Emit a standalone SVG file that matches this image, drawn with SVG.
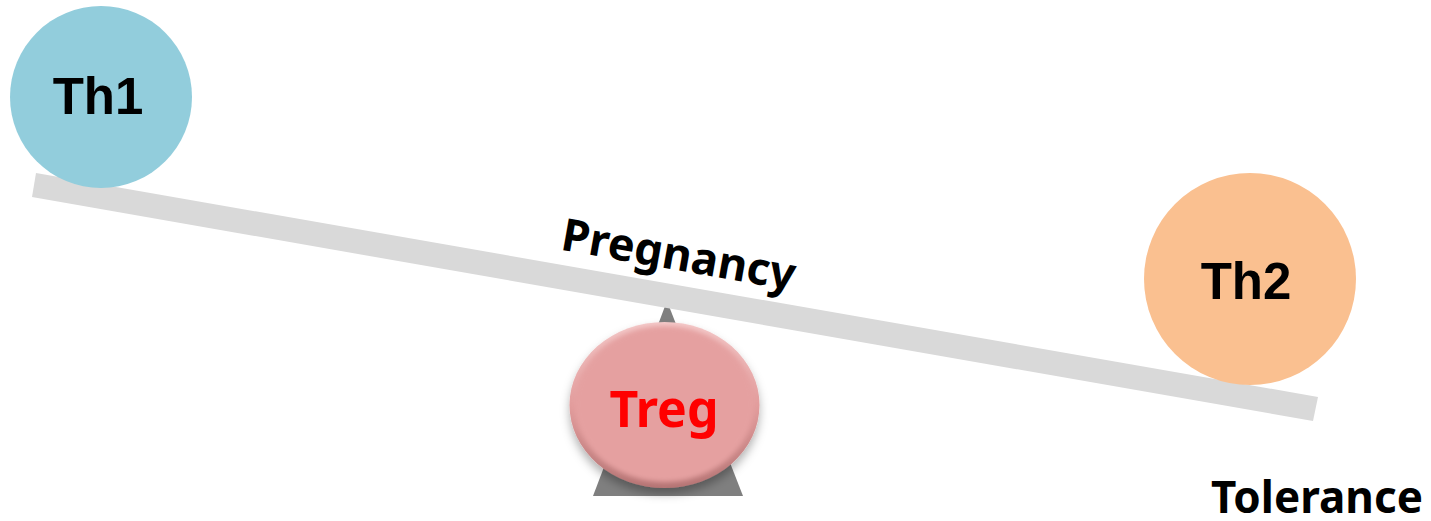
<svg xmlns="http://www.w3.org/2000/svg" width="1431" height="521" viewBox="0 0 1431 521">
<style>
.lbl{font-family:"Liberation Sans",Arial,sans-serif;font-weight:bold;font-size:51px;fill:#000;text-anchor:middle}
.txt{font-family:"Noto Sans","Open Sans",sans-serif;font-weight:bold;font-size:44px;fill:#000}
</style>
<defs>
<linearGradient id="rim" x1="0" y1="0" x2="0" y2="1">
<stop offset="0" stop-color="#f4caca"/>
<stop offset="0.5" stop-color="#e29c9c"/>
<stop offset="1" stop-color="#b57474"/>
</linearGradient>
<filter id="sh" x="-20%" y="-20%" width="140%" height="150%">
<feDropShadow dx="0" dy="6" stdDeviation="5" flood-color="#000" flood-opacity="0.3"/>
</filter>
<filter id="soft" x="-10%" y="-10%" width="120%" height="120%">
<feGaussianBlur stdDeviation="2.5"/>
</filter>
</defs>
<rect width="1431" height="521" fill="#fff"/>
<g id="fulcrum">
<polygon points="667,301 743,496 593,496" fill="#7f7f7f"/>
</g>
<g id="connectors">
<polygon id="beam" points="36,173 1318,397 1313,421 32,197" fill="#d9d9d9"/>
</g>
<g id="pregnancy">
<text class="txt" transform="translate(676,270) rotate(10)" text-anchor="middle" style="font-size:45px">Pregnancy</text>
</g>
<g id="th1">
<circle cx="101" cy="97" r="91" fill="#92cddc"/>
<text class="lbl" x="98" y="114">Th1</text>
</g>
<g id="th2">
<circle cx="1250" cy="279" r="106" fill="#fac090"/>
<text class="lbl" x="1246" y="299">Th2</text>
</g>
<g id="treg">
<ellipse cx="664.5" cy="405" rx="95" ry="83" fill="url(#rim)" filter="url(#sh)"/>
<ellipse cx="664.5" cy="404" rx="90" ry="78" fill="#e5a0a0" filter="url(#soft)"/>
<text class="txt" x="664" y="427" text-anchor="middle" style="fill:#ff0000;font-size:50px">Treg</text>
</g>
<g id="tolerance">
<text class="txt" x="1211" y="513">Tolerance</text>
</g>
</svg>
